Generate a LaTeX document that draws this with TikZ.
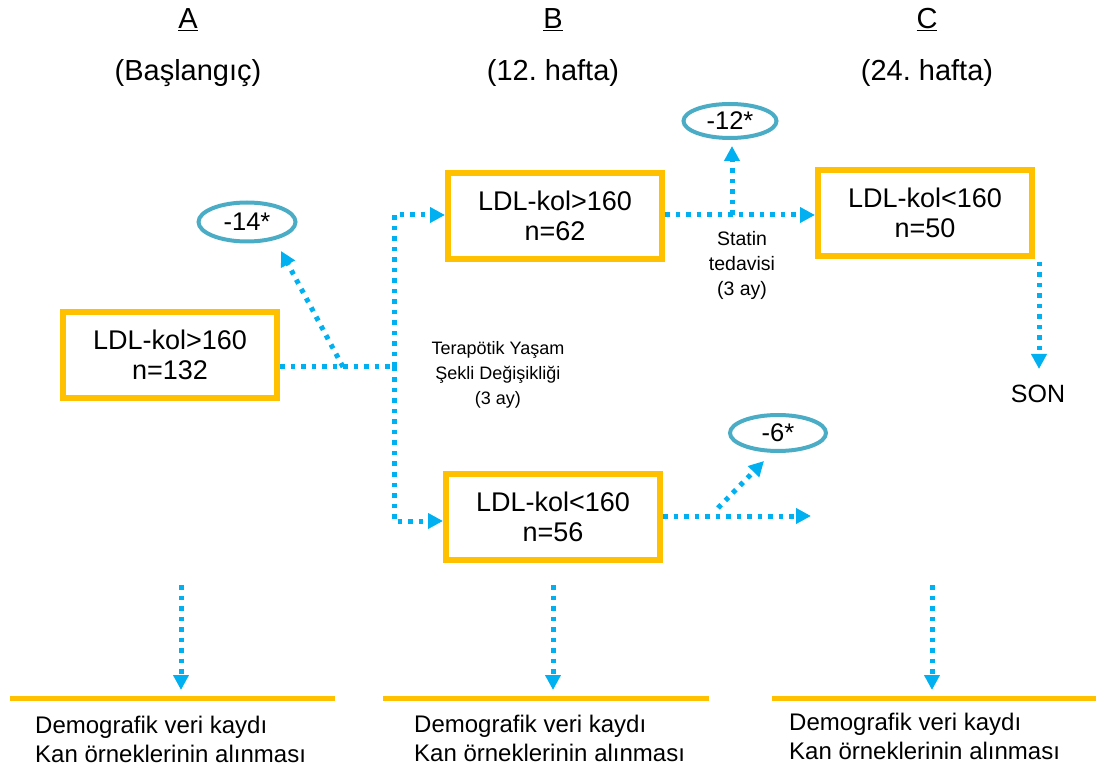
\documentclass[tikz,border=0pt]{standalone}
\usepackage{fontspec}
\setmainfont{Liberation Sans}
\frenchspacing
\usetikzlibrary{arrows.meta,calc,shapes.geometric}
\definecolor{boxorange}{HTML}{FFC000}
\definecolor{flowblue}{HTML}{00B0F0}
\definecolor{ringteal}{HTML}{4BACC6}
\tikzset{
  stagebox/.style={draw=boxorange, line width=6pt, minimum width=214pt, minimum height=86pt,
    align=center, inner sep=0pt, font=\fontsize{27}{30}\selectfont},
  ring/.style={ellipse, draw=ringteal, line width=4pt, inner sep=0pt, font=\fontsize{25.5}{28}\selectfont},
  flow/.style={draw=flowblue, line width=5pt, dash pattern=on 4.5pt off 6pt},
  flowarrow/.style={flow, -{Triangle[length=15pt,width=15pt]}},
  baseline rule/.style={draw=boxorange, line width=5pt},
  header/.style={font=\fontsize{29}{34}\selectfont},
  note/.style={align=center, font=\fontsize{18}{25}\selectfont},
  tasks/.style={align=left, anchor=west, font=\fontsize{24}{29}\selectfont, inner sep=0pt}
}
\begin{document}
\begin{tikzpicture}[x=1pt,y=-1pt]
\useasboundingbox (0,0) rectangle (1096,767);

% column headings
\node[header] (hA) at (188,20) {\underline{A}};
\node[header] (hA2) at (188,73) {(Başlangıç)};
\node[header] (hB) at (553,20) {\underline{B}};
\node[header] (hB2) at (553,73) {(12. hafta)};
\node[header] (hC) at (927,20) {\underline{C}};
\node[header] (hC2) at (927,73) {(24. hafta)};

% LDL groups
\node[stagebox] (a)  at (170,355) {LDL-kol>160\\n=132};
\node[stagebox] (b1) at (555,216) {LDL-kol>160\\n=62};
\node[stagebox] (b2) at (553,517) {LDL-kol<160\\n=56};
\node[stagebox] (c)  at (925,213) {LDL-kol<160\\n=50};

% reductions
\node[ring, minimum width=97pt, minimum height=39pt] (e1) at (247,222) {-14*};
\node[ring, minimum width=93pt, minimum height=34pt] (e2) at (730,121) {-12*};
\node[ring, minimum width=96pt, minimum height=36pt] (e3) at (778,433) {-6*};

% interventions and end
\node[note] (tls) at (498,375) {Terapötik Yaşam\\Şekli Değişikliği\\(3 ay)};
\node[note, font=\fontsize{19.5}{25}\selectfont] (st) at (742,265) {Statin\\tedavisi\\(3 ay)};
\node[font=\fontsize{25}{30}\selectfont] (son) at (1038,394) {SON};

% routing points
\coordinate (aout) at ($(a.east)+(0,12)$);
\coordinate (bend) at (343,367);
\coordinate (fork) at (394,367);
\coordinate (t1) at (281,251);
\coordinate (b1in) at ($(b1.west)+(0,-1)$);
\coordinate (b2in) at ($(b2.west)+(0,4)$);
\coordinate (b1out) at ($(b1.east)+(0,-1)$);
\coordinate (cin) at ($(c.west)+(0,2)$);
\coordinate (up2) at (732,215);
\coordinate (t2) at (732,146);
\coordinate (b2out) at ($(b2.east)+(0,-1)$);
\coordinate (free) at (811,516);
\coordinate (d3) at (718,508);
\coordinate (t3) at (764,461);
\coordinate (cdown) at (1039,262);
\coordinate (t4) at (1039,369);

\draw[flow] (aout) -- (fork);
\draw[flowarrow] (bend) -- (t1);
\draw[flowarrow] (fork) |- (b1in);
\draw[flowarrow] (fork) |- (b2in);
\draw[flowarrow] (b1out) -- (cin);
\draw[flowarrow] (up2) -- (t2);
\draw[flowarrow] (b2out) -- (free);
\draw[flowarrow] (d3) -- (t3);
\draw[flowarrow] (cdown) -- (t4);

% visit procedures
\coordinate (r1a) at (10,698);  \coordinate (r1b) at (335,698);
\coordinate (r2a) at (383,698); \coordinate (r2b) at (709,698);
\coordinate (r3a) at (772,698); \coordinate (r3b) at (1096,698);
\draw[baseline rule] (r1a) -- (r1b);
\draw[baseline rule] (r2a) -- (r2b);
\draw[baseline rule] (r3a) -- (r3b);

\coordinate (s1) at (181,585); \coordinate (k1) at (181,690);
\coordinate (s2) at (553,585); \coordinate (k2) at (553,690);
\coordinate (s3) at (932,585); \coordinate (k3) at (932,690);
\draw[flowarrow] (s1) -- (k1);
\draw[flowarrow] (s2) -- (k2);
\draw[flowarrow] (s3) -- (k3);

\node[tasks] (p1) at (35,739) {Demografik veri kaydı\\Kan örneklerinin alınması};
\node[tasks] (p2) at (414,738) {Demografik veri kaydı\\Kan örneklerinin alınması};
\node[tasks] (p3) at (789,736) {Demografik veri kaydı\\Kan örneklerinin alınması};
\end{tikzpicture}
\end{document}
